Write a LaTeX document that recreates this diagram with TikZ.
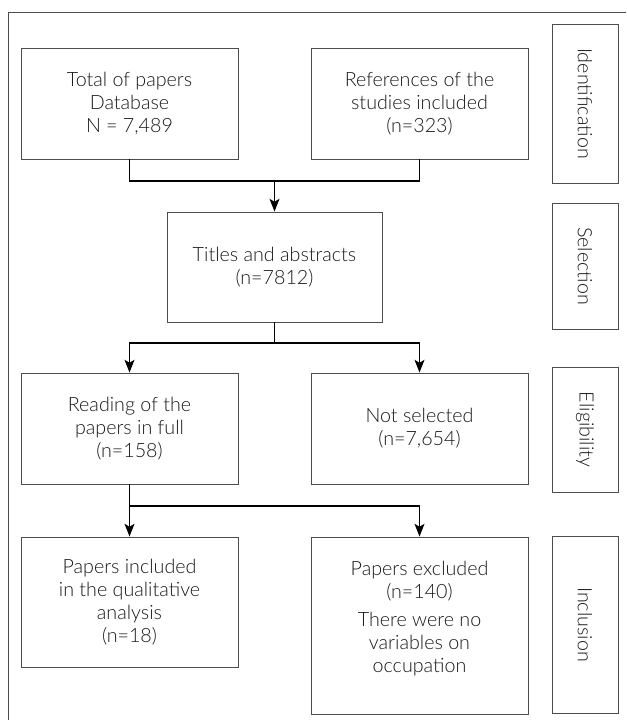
\documentclass[tikz,border=0pt]{standalone}
\usepackage{fontspec}
\setmainfont{Lato Light}
\usetikzlibrary{arrows.meta}

\begin{document}
\begin{tikzpicture}[x=0.025cm,y=-0.025cm,
	box/.style={draw=black!70,line width=0.6pt,align=center,inner sep=0pt,text=black!90,font=\fontsize{14}{16.2}\selectfont},
	side/.style={box,rotate=-90,minimum height=1.65cm},
	line/.style={line width=1.2pt},
	arrow/.style={line width=1.2pt,-{Stealth[length=9pt,width=7pt,inset=2pt]}}]
			\useasboundingbox (0,0) rectangle (626,720);
			\draw[draw=black!70,line width=0.6pt] (626,12) -- (8,12) -- (8,720);
			% main boxes
			\node[box,minimum width=5.425cm,minimum height=2.775cm] (total) at (129.5,103.5) {Total of papers\\Database\\N = 7,489};
			\node[box,minimum width=5.425cm,minimum height=2.775cm] (refs) at (419.5,103.5) {References of the\\studies included\\(n=323)};
			\node[box,minimum width=5.375cm,minimum height=2.75cm] (titles) at (274.5,267) {Titles and abstracts\\(n=7812)};
			\node[box,minimum width=5.425cm,minimum height=2.775cm] (read) at (129.5,428.5) {Reading of the\\papers in full\\(n=158)};
			\node[box,minimum width=5.425cm,minimum height=2.775cm] (notsel) at (419.5,428.5) {Not selected\\(n=7,654)};
			\node[box,minimum width=5.425cm,minimum height=3.25cm] (incl) at (129.5,602) {Papers included\\in the qualitative\\analysis\\(n=18)};
			\node[box,minimum width=5.425cm,minimum height=4.425cm] (excl) at (419.5,625.5) {Papers excluded\\(n=140)\\[4pt]There were no\\variables on\\occupation\\[-4pt]\phantom{x}};
			% phases
			\node[side,minimum width=3.975cm] (ident) at (585,103.5) {Identification};
			\node[side,minimum width=3.15cm] (sel) at (585,266) {Selection};
			\node[side,minimum width=3.125cm] (elig) at (585,429.5) {Eligibility};
			\node[side,minimum width=4.425cm] (incphase) at (585,624.5) {Inclusion};
			% connectors
			\coordinate (j1) at (274.5,181);
			\coordinate (j2) at (274.5,343);
			\coordinate (j3) at (129.5,506);
			\draw[line] (total) |- (j1) -| (refs);
			\draw[arrow] (j1) -- (titles);
			\draw[line] (titles) -- (j2);
			\draw[arrow] (j2) -| (read);
			\draw[arrow] (j2) -| (notsel);
			\draw[line] (read) -- (j3);
			\draw[arrow] (j3) -- (incl);
			\draw[arrow] (j3) -| (excl);
\end{tikzpicture}
\end{document}
